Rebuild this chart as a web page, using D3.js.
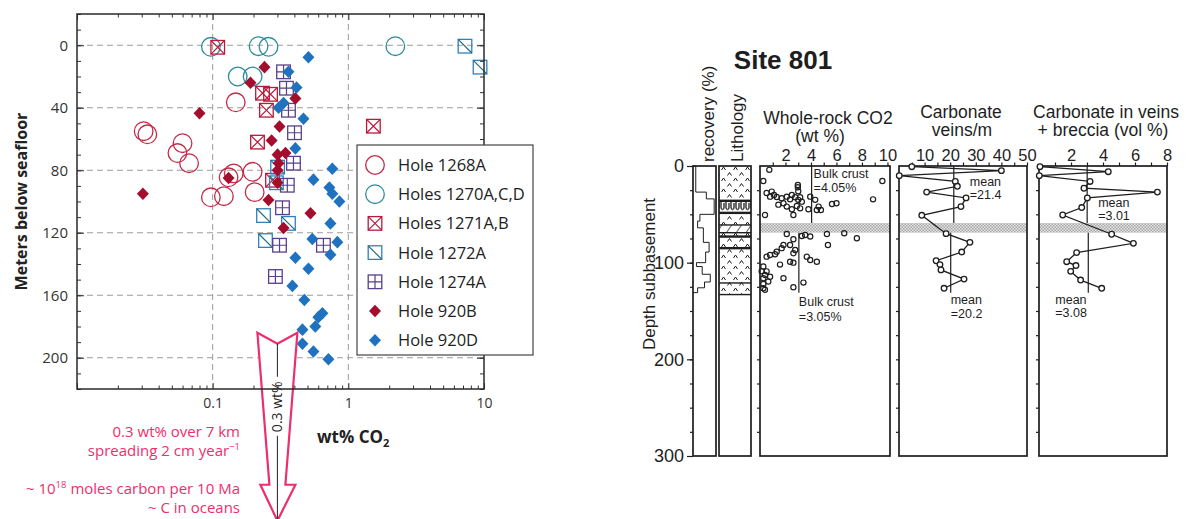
<!DOCTYPE html>
<html>
<head>
<meta charset="utf-8">
<script src="https://cdn.jsdelivr.net/npm/d3@7"></script>
<style>
body{margin:0;background:#fff;}
svg{display:block;font-family:"Open Sans",sans-serif;}
.site text{font-family:"Liberation Sans",Arial,sans-serif;fill:#1e1e1e;}
</style>
</head>
<body>
<svg id="fig" width="1187" height="519"></svg>
<script>
// ---- left chart: [wt% CO2, meters below seafloor]
var hole1268A = [[0.148,36.5],[0.031,55],[0.033,57],[0.060,62.7],[0.055,69],[0.067,75.5],
                 [0.143,82],[0.131,84.5],[0.197,81],[0.097,97.3],[0.121,96.6],[0.204,94]];
var holes1270ACD = [[0.097,1],[0.218,0.6],[0.258,1],[2.22,0.6],[0.153,20],[0.197,20]];
var holes1271AB = [[0.109,1.3],[0.233,30.7],[0.267,31.4],[0.249,41.6],[1.53,51.8],[0.214,62],[0.276,86.4]];
var hole1272A = [[7.24,0.6],[9.35,14],[0.301,78],[0.295,88],[0.237,109],[0.362,114],[0.245,125]];
var hole1274A = [[0.333,17],[0.35,27.5],[0.362,41.6],[0.401,56],[0.394,75.5],[0.355,89.6],
                 [0.327,104],[0.311,128],[0.655,128],[0.29,148]];
var hole920B = [[0.241,14],[0.19,24],[0.080,43.5],[0.407,34],[0.311,52],[0.272,61],[0.301,70],
                [0.344,69],[0.306,75.5],[0.301,80],[0.131,85],[0.301,88],[0.258,99],[0.526,107.5],
                [0.333,117],[0.0306,95]];
var hole920D = [[0.508,7.7],[0.362,17],[0.415,27],[0.333,37],[0.306,40],[0.467,47],[0.407,66],
                [0.762,79],[0.553,86],[0.725,91],[0.762,95],[0.859,100],[0.738,114],[0.543,124],
                [0.83,126],[0.738,134],[0.407,136],[0.508,143],[0.387,154],[0.474,163],[0.644,171.5],
                [0.601,174],[0.571,180],[0.459,182],[0.459,191],[0.553,196],[0.713,201]];
var legendNames = ["Hole 1268A","Holes 1270A,C,D","Holes 1271A,B","Hole 1272A","Hole 1274A","Hole 920B","Hole 920D"];
var xMajor = [0.01,0.1,1,10];
var xLabeled = [0.1,1,10];
var yMajor = [0,40,80,120,160,200];
var arrowValue = 0.3;

// ---- Site 801
var recoveryTop = [0,27,34,50,57,64,79,89,100,104,112,120,126];
var recoveryBot = [27,34,50,57,64,79,89,100,104,112,120,126,131];
var recoveryPct = [12,58,92,30,20,45,70,55,15,40,75,50,20];
var lithTop = [0,36,48.5,61,69,73,85,121];
var lithBot = [36,48.5,61,69,73,85,121,133];
var lithType = ["pillow","breccia","pillow","hatch","pillow","pillow","pillow","pillow"];
var wholeRockCO2 = [[0.73,4],[0.26,15.5],[2.97,19.6],[2.97,22],[9.6,15.5],[0.52,28],[0.92,26.5],[1.1,30],
  [0.79,31.7],[1.31,32],[1.7,33.4],[2.1,31.7],[2.36,34.5],[2.5,30],[2.76,32.4],[3.0,35],[3.15,32.4],
  [3.28,36.9],[1.84,38.6],[2.1,42],[2.5,44.8],[2.89,41.4],[3.15,43.8],[3.94,31.7],[3.8,44.8],[4.33,35],
  [4.6,42],[4.78,45.5],[4.46,45.5],[5.65,39.3],[6.0,38.6],[8.87,34.5],[0.39,50.7],[2.62,50.7],[1.44,40],[3.0,26],
  [2.1,70.3],[3.28,72.4],[3.54,71.4],[3.94,73],[5.25,70.3],[6.61,69.6],[7.6,74.8],[5.33,81.7],[2.62,75.8],
  [2.36,81.7],[1.84,81.7],[1.7,85],[1.31,88.6],[1.18,91.3],[0.79,92],[0.52,93.8],[2.76,86.9],[2.62,90.3],
  [3.67,93.8],[3.94,97.2],[4.46,99],[2.36,99],[2.62,100],[1.57,102],[0.26,104],[0.13,109],[0.52,109],
  [0.39,112.7],[0.79,114.5],[0.26,116],[1.84,116],[0.65,119.6],[3.41,120.6],[0.26,122],[0.26,126.5],
  [0.39,128],[2.62,125.4]];
var veinsDepth = [0.7,4.8,10,16,21,27,33,42,51,70,79,89,98,102,107.5,117,126.5];
var veinsPerM = [5,40,0.1,22,22.8,10.8,26.2,24.2,8.9,18.4,27.7,24.5,14.5,16,16.4,25.4,17.6];
var brecciaDepth = [0.7,5.9,10,16,23,27,33,43,50.7,70.6,80,89.6,99,103,109,118,126.5];
var brecciaVol = [0.06,4.33,0.02,3.19,2.81,7.4,3.02,2.67,1.48,4.54,5.9,2.35,1.73,2.31,1.98,2.6,3.92];
var gapTop = 59, gapBot = 69;
var wrMeans = [4.05,3.05], veinMeans = [21.4,20.2], brecciaMeans = [3.01,3.08];
var upperRange = [0,59], lowerRange = [69,131];

var svg = d3.select("#fig");
var defs = svg.append("defs");

/////////////////// left chart
var L = {left:77, right:484, top:14, bottom:389};
var x = d3.scaleLog().domain([0.01,10]).range([L.left,L.right]);
var y = d3.scaleLinear().domain([-20,220]).range([L.top,L.bottom]);
var gl = svg.append("g");

gl.selectAll(".gx").data([0.1,1]).join("line")
  .attr("x1",d=>x(d)).attr("x2",d=>x(d)).attr("y1",L.top).attr("y2",L.bottom)
  .attr("stroke","#9c9c9c").attr("stroke-dasharray","6,4");
gl.selectAll(".gy").data(yMajor).join("line")
  .attr("x1",L.left).attr("x2",L.right).attr("y1",d=>y(d)).attr("y2",d=>y(d))
  .attr("stroke","#9c9c9c").attr("stroke-dasharray","6,4");

var cols = {c1268:"#c42a48", c1270:"#2f8c9c", c1271:"#b81a3c", c1272:"#2f80bf",
            c1274:"#5a3f8b", c920B:"#a50d2d", c920D:"#1f72bf"};
var series = [
  {name:legendNames[0], data:hole1268A, sym:"circle", color:cols.c1268},
  {name:legendNames[1], data:holes1270ACD, sym:"circle", color:cols.c1270},
  {name:legendNames[2], data:holes1271AB, sym:"sqx", color:cols.c1271},
  {name:legendNames[3], data:hole1272A, sym:"sqd", color:cols.c1272},
  {name:legendNames[4], data:hole1274A, sym:"sqp", color:cols.c1274},
  {name:legendNames[5], data:hole920B, sym:"dia", color:cols.c920B},
  {name:legendNames[6], data:hole920D, sym:"dia", color:cols.c920D}
];

function drawSym(g, kind, color){
  var s = 6.8;
  if (kind=="circle"){
    g.append("circle").attr("r",9.3).attr("fill","none").attr("stroke",color).attr("stroke-width",1.3);
  } else if (kind=="dia"){
    g.append("path").attr("d","M0,-6.3L6,0L0,6.3L-6,0Z").attr("fill",color);
  } else {
    g.append("rect").attr("x",-s).attr("y",-s).attr("width",2*s).attr("height",2*s)
      .attr("fill","none").attr("stroke",color).attr("stroke-width",1.3);
    var p = kind=="sqx" ? "M-6.8,-6.8L6.8,6.8M6.8,-6.8L-6.8,6.8"
          : kind=="sqd" ? "M-6.8,-6.8L6.8,6.8" : "M0,-6.8V6.8M-6.8,0H6.8";
    g.append("path").attr("d",p).attr("stroke",kind=="sqd" ? "#1f6d7a" : color).attr("stroke-width",1.2);
  }
}

series.forEach(function(s){
  gl.append("g").selectAll("g").data(s.data).join("g")
    .attr("transform",d=>"translate("+x(d[0])+","+y(d[1])+")")
    .each(function(){ drawSym(d3.select(this), s.sym, s.color); });
});

// arrow (0.3 wt%)
var ax = x(arrowValue), pink = "#ec2f6c";
var yTop = y(184);
gl.append("path")
  .attr("d","M"+(ax-20)+","+yTop+"L"+ax+","+(yTop+11)+"L"+(ax+20)+","+yTop+
            "L"+(ax+8)+","+(yTop+152)+"L"+(ax+18)+","+(yTop+152)+"L"+ax+","+(yTop+188)+
            "L"+(ax-17)+","+(yTop+152)+"L"+(ax-8)+","+(yTop+152)+"Z")
  .attr("fill","#fff").attr("stroke",pink).attr("stroke-width",2.2).attr("stroke-linejoin","miter");
gl.append("line").attr("x1",ax).attr("x2",ax).attr("y1",yTop+11).attr("y2",yTop+44).attr("stroke","#222");
gl.append("line").attr("x1",ax).attr("x2",ax).attr("y1",yTop+103).attr("y2",yTop+187).attr("stroke","#222");
gl.append("text").attr("transform","translate("+ax+","+(yTop+74)+") rotate(-90)")
  .attr("text-anchor","middle").attr("dy","0.36em").attr("font-size",14).attr("fill","#222").text("0.3 wt%");

// frame + axes
function tickStyle(g){ g.select(".domain").remove(); g.selectAll("line").attr("stroke","#333"); }
var minorX = [];
[0.01,0.1,1].forEach(function(b){ for (var k=2;k<10;k++) minorX.push(b*k); });
var minorY = d3.range(-20,221,10);

gl.append("g").attr("transform","translate(0,"+L.bottom+")")
  .call(d3.axisBottom(x).tickValues(xMajor).tickSize(-6).tickPadding(9)
        .tickFormat(d=>xLabeled.indexOf(d)>=0 ? d3.format("~g")(d) : ""))
  .call(tickStyle)
  .call(g=>g.selectAll("text").attr("font-size",14).attr("fill","#333").attr("font-family","Open Sans"));
gl.append("g").attr("transform","translate(0,"+L.bottom+")")
  .call(d3.axisBottom(x).tickValues(minorX).tickSize(-3.5).tickFormat("")).call(tickStyle);
gl.append("g").attr("transform","translate(0,"+L.top+")")
  .call(d3.axisTop(x).tickValues(xMajor).tickSize(-6).tickFormat("")).call(tickStyle);
gl.append("g").attr("transform","translate(0,"+L.top+")")
  .call(d3.axisTop(x).tickValues(minorX).tickSize(-3.5).tickFormat("")).call(tickStyle);
gl.append("g").attr("transform","translate("+L.left+",0)")
  .call(d3.axisLeft(y).tickValues(yMajor).tickSize(-7).tickPadding(9))
  .call(tickStyle)
  .call(g=>g.selectAll("text").attr("font-size",15).attr("fill","#333").attr("font-family","Open Sans"));
gl.append("g").attr("transform","translate("+L.left+",0)")
  .call(d3.axisLeft(y).tickValues(minorY).tickSize(-4).tickFormat("")).call(tickStyle);
gl.append("g").attr("transform","translate("+L.right+",0)")
  .call(d3.axisRight(y).tickValues(yMajor).tickSize(-7).tickFormat("")).call(tickStyle);
gl.append("g").attr("transform","translate("+L.right+",0)")
  .call(d3.axisRight(y).tickValues(minorY).tickSize(-4).tickFormat("")).call(tickStyle);
gl.append("rect").attr("x",L.left).attr("y",L.top).attr("width",L.right-L.left).attr("height",L.bottom-L.top)
  .attr("fill","none").attr("stroke","#2a2a2a").attr("stroke-width",1.5);

// legend
var lg = gl.append("g").attr("transform","translate(357,145)");
lg.append("rect").attr("width",176).attr("height",210).attr("fill","#fff").attr("stroke","#444").attr("stroke-width",1.2);
var rows = lg.selectAll("g").data(series).join("g").attr("transform",(d,i)=>"translate(18,"+(20+i*29.2)+")");
rows.each(function(d){ drawSym(d3.select(this), d.sym, d.color); });
rows.append("text").attr("x",23).attr("dy","0.36em").attr("font-size",16.5).attr("fill","#222").text(d=>d.name);

// titles
gl.append("text").attr("transform","translate(27,"+((L.top+L.bottom)/2)+") rotate(-90)")
  .attr("text-anchor","middle").attr("font-weight","bold").attr("font-size",16).attr("fill","#222")
  .text("Meters below seafloor");
var xt = gl.append("text").attr("x",317).attr("y",443).attr("font-weight","bold").attr("font-size",17).attr("fill","#222");
xt.append("tspan").text("wt% CO");
xt.append("tspan").attr("font-size",11).attr("dy",4).text("2");

var pt = gl.append("g").attr("fill",pink).attr("font-size",15).attr("text-anchor","end");
pt.append("text").attr("x",240).attr("y",437).text("0.3 wt% over 7 km");
var t2 = pt.append("text").attr("x",240).attr("y",456);
t2.append("tspan").text("spreading 2 cm year");
t2.append("tspan").attr("font-size",9.5).attr("dy",-6).text("−1");
var t3 = pt.append("text").attr("x",240).attr("y",494);
t3.append("tspan").text("~ 10");
t3.append("tspan").attr("font-size",9.5).attr("dy",-6).text("18");
t3.append("tspan").attr("dy",6).text(" moles carbon per 10 Ma");
pt.append("text").attr("x",240).attr("y",513).text("~ C in oceans");

/////////////////// Site 801
var gr = svg.append("g").attr("class","site");
var yR = d3.scaleLinear().domain([0,300]).range([166,456]);
var P = {rec:[693,716], lith:[719,751], wr:[760,890], vn:[899,1027], br:[1039,1167]};
var xRec = d3.scaleLinear().domain([0,100]).range(P.rec);
var xWR = d3.scaleLinear().domain([0,10.2]).range(P.wr);
var xVN = d3.scaleLinear().domain([0,50]).range(P.vn);
var xBR = d3.scaleLinear().domain([0,8]).range(P.br);
var ink = "#1e1e1e";

// patterns
var pp = defs.append("pattern").attr("id","pillow").attr("patternUnits","userSpaceOnUse").attr("width",12).attr("height",11);
pp.append("path").attr("d","M1.5,5 l2,-3 l2,3 M7.5,10.5 l2,-3 l2,3").attr("stroke",ink).attr("fill","none").attr("stroke-width",1);
var pb = defs.append("pattern").attr("id","breccia").attr("patternUnits","userSpaceOnUse").attr("width",5).attr("height",12.5);
pb.append("path").attr("d","M1,2 V8 Q2.5,11 4,8 V3").attr("stroke",ink).attr("fill","none").attr("stroke-width",1.3);
var ph = defs.append("pattern").attr("id","hatch").attr("patternUnits","userSpaceOnUse").attr("width",8).attr("height",8)
  .attr("patternTransform","rotate(35)");
ph.append("line").attr("x1",0).attr("x2",0).attr("y1",0).attr("y2",8).attr("stroke",ink).attr("stroke-width",1.4);
var pd = defs.append("pattern").attr("id","dots").attr("patternUnits","userSpaceOnUse").attr("width",3).attr("height",3);
pd.append("rect").attr("width",3).attr("height",3).attr("fill","#e4e4e4");
pd.append("rect").attr("width",1.5).attr("height",1.5).attr("fill","#a8a8a8");
pd.append("rect").attr("x",1.5).attr("y",1.5).attr("width",1.5).attr("height",1.5).attr("fill","#a8a8a8");

// header
gr.append("text").attr("x",783).attr("y",69).attr("text-anchor","middle").attr("font-weight","bold").attr("font-size",26).text("Site 801");
gr.append("text").attr("transform","translate(714,162) rotate(-90)").attr("font-size",17).text("recovery (%)");
gr.append("text").attr("transform","translate(743,162) rotate(-90)").attr("font-size",17).text("Lithology");
gr.append("text").attr("transform","translate(655,274) rotate(-90)").attr("text-anchor","middle").attr("font-size",17).text("Depth subbasement");
var heads = [[828,124,"Whole-rock CO2"],[820,142,"(wt %)"],[961,118,"Carbonate"],[962,136,"veins/m"],
             [1106,118,"Carbonate in veins"],[1103,136,"+ breccia (vol %)"]];
gr.selectAll(".hd").data(heads).join("text").attr("x",d=>d[0]).attr("y",d=>d[1])
  .attr("text-anchor","middle").attr("font-size",17.5).text(d=>d[2]);

// lithology
gr.append("g").selectAll("rect").data(lithType).join("rect")
  .attr("x",P.lith[0]).attr("width",P.lith[1]-P.lith[0])
  .attr("y",(d,i)=>yR(lithTop[i])).attr("height",(d,i)=>yR(lithBot[i])-yR(lithTop[i]))
  .attr("fill",d=>"url(#"+d+")");
gr.append("g").selectAll("line").data(lithBot).join("line")
  .attr("x1",P.lith[0]).attr("x2",P.lith[1]).attr("y1",d=>yR(d)).attr("y2",d=>yR(d))
  .attr("stroke",ink).attr("stroke-width",(d,i)=>(i==0||i==1||i==4||i==5) ? 2.4 : 1.4);

// recovery profile
var recPts = [[0,0]];
recoveryPct.forEach(function(v,i){ recPts.push([v,recoveryTop[i]]); recPts.push([v,recoveryBot[i]]); });
recPts.push([0,recoveryBot[recoveryBot.length-1]]);
gr.append("path").datum(recPts)
  .attr("d",d3.line().x(d=>xRec(d[0])).y(d=>yR(d[1])))
  .attr("fill","none").attr("stroke",ink).attr("stroke-width",1);

// gap band
[P.wr,P.vn,P.br].forEach(function(p){
  gr.append("rect").attr("x",p[0]).attr("width",p[1]-p[0]).attr("y",yR(gapTop)).attr("height",yR(gapBot)-yR(gapTop))
    .attr("fill","url(#dots)");
});

// panel boxes
[P.rec,P.lith,P.wr,P.vn,P.br].forEach(function(p){
  gr.append("rect").attr("x",p[0]).attr("width",p[1]-p[0]).attr("y",yR(0)).attr("height",yR(300)-yR(0))
    .attr("fill","none").attr("stroke",ink).attr("stroke-width",1.7);
});

// depth axis
function rTicks(g){ g.select(".domain").remove(); g.selectAll("line").attr("stroke",ink).attr("stroke-width",1.2); }
gr.append("g").attr("transform","translate("+P.rec[0]+",0)")
  .call(d3.axisLeft(yR).tickValues([0,100,200,300]).tickSize(6).tickPadding(3)).call(rTicks)
  .call(g=>g.selectAll("text").attr("font-size",18).attr("font-family","Liberation Sans").attr("fill",ink));
gr.append("g").attr("transform","translate("+P.rec[0]+",0)")
  .call(d3.axisLeft(yR).tickValues(d3.range(25,300,25)).tickSize(3).tickFormat("")).call(rTicks);
[P.wr,P.vn,P.br].forEach(function(p){
  gr.append("g").attr("transform","translate("+p[0]+",0)")
    .call(d3.axisLeft(yR).tickValues(d3.range(25,300,25)).tickSize(3).tickFormat("")).call(rTicks);
});

// top scales
function topAxis(scale, vals, labelEvery){
  gr.append("g").attr("transform","translate(0,"+yR(0)+")")
    .call(d3.axisTop(scale).tickValues(vals).tickSize(3.5).tickPadding(2)
          .tickFormat(d=>d % labelEvery === 0 ? d : ""))
    .call(rTicks)
    .call(g=>g.selectAll("text").attr("font-size",16.5).attr("font-family","Liberation Sans").attr("fill",ink));
}
topAxis(xWR, d3.range(1,11), 2);
topAxis(xVN, d3.range(5,51,5), 10);
topAxis(xBR, d3.range(1,9), 2);

// means
function meanLine(scale, v, r){
  gr.append("line").attr("x1",scale(v)).attr("x2",scale(v)).attr("y1",yR(r[0])).attr("y2",yR(r[1]))
    .attr("stroke",ink).attr("stroke-width",1.2);
}
meanLine(xWR, wrMeans[0], upperRange); meanLine(xWR, wrMeans[1], lowerRange);
meanLine(xVN, veinMeans[0], upperRange); meanLine(xVN, veinMeans[1], lowerRange);
meanLine(xBR, brecciaMeans[0], upperRange); meanLine(xBR, brecciaMeans[1], lowerRange);

var notes = [
  [xWR(wrMeans[0])+2, 12, "Bulk crust"], [xWR(wrMeans[0])+2, 27, "=" + wrMeans[0] + "%"],
  [xWR(wrMeans[1]), 145, "Bulk crust"], [xWR(wrMeans[1]), 160, "=" + wrMeans[1] + "%"],
  [xVN(veinMeans[0])+16, 20.5, "mean"], [xVN(veinMeans[0])+16, 34, "=" + veinMeans[0]],
  [xVN(veinMeans[1]), 143, "mean"], [xVN(veinMeans[1]), 157, "=" + veinMeans[1]],
  [xBR(brecciaMeans[0])+11, 42, "mean"], [xBR(brecciaMeans[0])+11, 55.5, "=" + brecciaMeans[0]],
  [xBR(brecciaMeans[1])-33, 142.5, "mean"], [xBR(brecciaMeans[1])-33, 156, "=" + brecciaMeans[1]]
];
gr.selectAll(".nt").data(notes).join("text").attr("x",d=>d[0]).attr("y",d=>yR(d[1]))
  .attr("font-size",12.5).text(d=>d[2]);

// whole-rock points
gr.append("g").selectAll("circle").data(wholeRockCO2).join("circle")
  .attr("cx",d=>xWR(d[0])).attr("cy",d=>yR(d[1])).attr("r",2.6)
  .attr("fill","none").attr("stroke",ink).attr("stroke-width",1.2);

// veins and breccia profiles
function profile(scale, depth, vals){
  var pts = depth.map((d,i)=>[vals[i],d]);
  gr.append("path").datum(pts).attr("d",d3.line().x(d=>scale(d[0])).y(d=>yR(d[1])))
    .attr("fill","none").attr("stroke",ink).attr("stroke-width",1.3);
  gr.append("g").selectAll("circle").data(pts).join("circle")
    .attr("cx",d=>scale(d[0])).attr("cy",d=>yR(d[1])).attr("r",2.8)
    .attr("fill","#fff").attr("stroke",ink).attr("stroke-width",1.3);
}
profile(xVN, veinsDepth, veinsPerM);
profile(xBR, brecciaDepth, brecciaVol);
</script>
</body>
</html>
